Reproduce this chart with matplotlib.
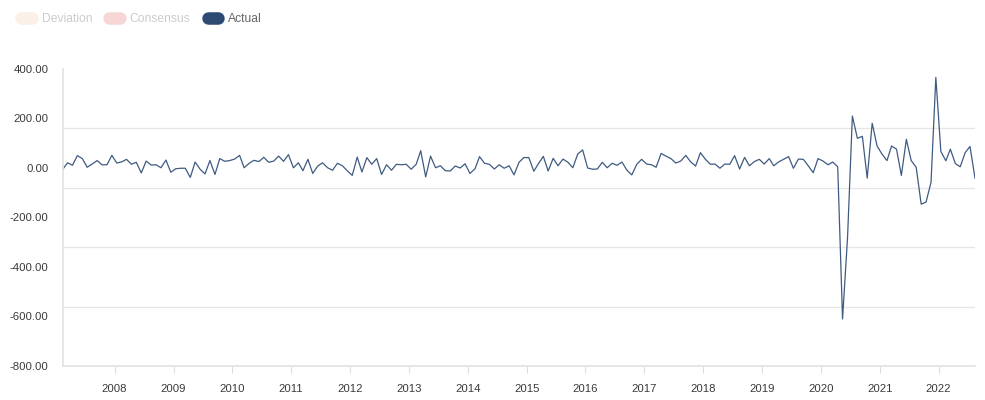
import pandas as pd
import matplotlib.pyplot as plt
import matplotlib.dates as mdates
from matplotlib.lines import Line2D

plt.rcParams['font.family'] = ['Liberation Sans', 'DejaVu Sans']

# monthly releases, Feb 2007 - Aug 2022
dates = pd.date_range('2007-02-01', '2022-08-01', freq='MS') + pd.Timedelta(days=14)

actual = [
    -4, 21, 11, 50, 38, 3, 16, 30, 13, 13, 51, 20, 25, 35, 15, 23, -20, 28, 12, 13,
    1, 32, -17, -3, -1, -1, -38, 24, -5, -24, 30, -26, 38, 27, 30, 36, 51,
    1, 19, 31, 26, 43, 23, 28, 48, 27, 54, 1, 21, -11, 35, -22, 8, 21, 1, -9,
    19, 9, -11, -30, 44, -16, 42, 15, 38, -26, 13, -9, 15, 13, 15, -5,
    15, 70, -36, 48, 1, 9, -11, -12, 8, 0, 17, -22, -3, 46, 19, 15, -4, 13, -1, 9,
    -28, 23, 42, 42, -13, 17, 47, -12, 39, 9, 36, 23, 1, 57, 73, 0, -5,
    -4, 23, 1, 19, 11, 24, -9, -28, 15, 35, 16, 13, 3, 59, 48, 38, 20, 28, 51, 25,
    8, 62, 35, 15, 16, -1, 16, 15, 50, -4, 43, 9, 26, 35, 16, 38, 9,
    25, 35, 46, -1, 36, 35, 9, -19, 38, 28, 13, 24, 5,
    -610, -280, 210, 120, 128, -41, 181, 89, 56, 30, 89, 76, -30, 116, 30, 3,
    -146, -138, -58, 366, 67, 29, 76, 18, 5, 62, 87, -41,
]

y_labels = [400, 200, 0, -200, -400, -600, -800]
grid_lines = [400, 160, -80, -320, -560, -800]

legend_names = ['Deviation', 'Consensus', 'Actual']
legend_colors = ['#fbefe8', '#f6d7d5', '#2d4a73']
legend_text_colors = ['#cccccc', '#cccccc', '#666666']

fig = plt.figure(figsize=(9.85, 4), dpi=100)
ax = fig.add_axes([63 / 985, 34 / 400, 912 / 985, 297 / 400])

ax.plot(dates, actual, color='#3f5b82', lw=0.9)

ax.set_xlim(dates[0], dates[-1])
ax.set_ylim(-800, 400)

ax.set_yticks(y_labels)
ax.set_yticklabels([f'{v:.2f}' for v in y_labels])
ax.set_yticks(grid_lines, minor=True)
ax.grid(True, which='minor', axis='y', color='#e6e6e6', lw=1)
ax.tick_params(axis='y', which='both', length=0, pad=10.5, labelsize=8.2, labelcolor='#3a3a3a')

ax.xaxis.set_major_locator(mdates.YearLocator())
ax.xaxis.set_major_formatter(mdates.DateFormatter('%Y'))
ax.tick_params(axis='x', length=5, color='#dddddd', pad=8, labelsize=8.2, labelcolor='#3a3a3a')

for side in ['top', 'right']:
    ax.spines[side].set_visible(False)
for side in ['left', 'bottom']:
    ax.spines[side].set_color('#e2e2e2')
    ax.spines[side].set_linewidth(1.2)

handles = [Line2D([], [], color=c, lw=9, solid_capstyle='round') for c in legend_colors]
leg = fig.legend(handles, legend_names, loc='center left', bbox_to_anchor=(21 / 985, 1 - 19 / 400),
                 ncol=3, frameon=False, fontsize=8.7, handlelength=0.88, handletextpad=0.83,
                 columnspacing=1.4, borderpad=0, borderaxespad=0)
for t, c in zip(leg.get_texts(), legend_text_colors):
    t.set_color(c)

fig.savefig('out.png', dpi=100)
